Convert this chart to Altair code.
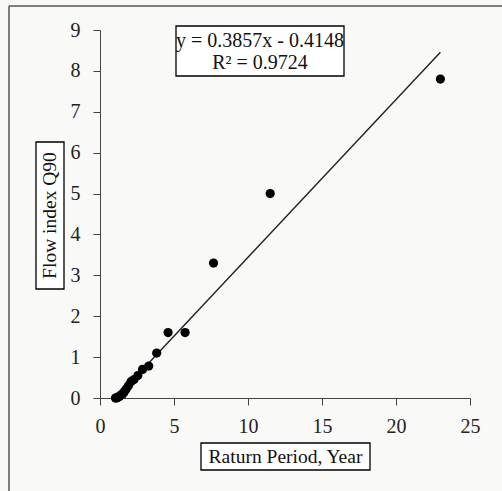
import altair as alt
import pandas as pd

# Data
return_period = [23.0, 11.5, 7.67, 5.75, 4.6, 3.83, 3.29, 2.875, 2.56, 2.3, 2.09,
                 1.92, 1.77, 1.64, 1.53, 1.44, 1.35, 1.28, 1.21, 1.15, 1.10, 1.045]
flow_index = [7.8, 5.0, 3.3, 1.6, 1.6, 1.1, 0.78, 0.7, 0.55, 0.45, 0.4,
              0.3, 0.22, 0.15, 0.1, 0.08, 0.05, 0.03, 0.02, 0.01, 0.0, 0.0]
slope = 0.3857
intercept = -0.4148
eq_lines = ["y = 0.3857x - 0.4148", "R² = 0.9724"]
eq_line_pos = [11, 33]
x_title = "Raturn Period, Year"
y_title = "Flow index Q90"

FONT = "Liberation Serif"

pts_df = pd.DataFrame({"x": return_period, "y": flow_index})
line_df = pd.DataFrame({"x": [min(return_period), max(return_period)]})

xs = alt.Scale(domain=[0, 25], nice=False)
ys = alt.Scale(domain=[0, 9], nice=False)

xaxis = alt.Axis(values=[0, 5, 10, 15, 20, 25], title=None, grid=False,
                 labelFont=FONT, labelFontSize=20, labelColor="#222",
                 domainColor="#444", tickColor="#444", tickSize=7,
                 labelPadding=11, labelFlush=False)
yaxis = alt.Axis(values=list(range(10)), title=None, grid=False,
                 labelFont=FONT, labelFontSize=20, labelColor="#222",
                 domainColor="#444", tickColor="#444", tickSize=7,
                 labelPadding=13, labelFlush=False)

points = alt.Chart(pts_df).mark_circle(size=85, color="black", opacity=1).encode(
    x=alt.X("x:Q", scale=xs, axis=xaxis),
    y=alt.Y("y:Q", scale=ys, axis=yaxis),
)

fit = alt.Chart(line_df).transform_calculate(
    y=f"{slope} * datum.x + ({intercept})"
).mark_line(color="#222", strokeWidth=1.4).encode(
    x=alt.X("x:Q", scale=xs),
    y=alt.Y("y:Q", scale=ys),
)

one = pd.DataFrame({"a": [0]})

# Equation box
eq_box = alt.Chart(one).mark_rect(
    fill="white", stroke="black", strokeWidth=1.3
).encode(x=alt.value(76), x2=alt.value(244), y=alt.value(-4), y2=alt.value(46))
eq_text = alt.Chart(pd.DataFrame({"t": eq_lines, "yy": eq_line_pos})).mark_text(
    font=FONT, fontSize=20, color="#111", baseline="middle", align="center"
).encode(text="t:N", x=alt.value(160), y=alt.Y("yy:Q", scale=None, axis=None))

# X title box
xt_box = alt.Chart(one).mark_rect(
    fill="white", stroke="black", strokeWidth=1.3
).encode(x=alt.value(101), x2=alt.value(270), y=alt.value(413), y2=alt.value(440))
xt_text = alt.Chart(pd.DataFrame({"t": [x_title]})).mark_text(
    font=FONT, fontSize=19.5, color="#111", baseline="middle", align="center"
).encode(text="t:N", x=alt.value(185.5), y=alt.value(427))

# Y title box
yt_box = alt.Chart(one).mark_rect(
    fill="white", stroke="black", strokeWidth=1.3
).encode(x=alt.value(-64), x2=alt.value(-36), y=alt.value(112), y2=alt.value(259))
yt_text = alt.Chart(pd.DataFrame({"t": [y_title]})).mark_text(
    font=FONT, fontSize=19.5, color="#111", baseline="middle", align="center", angle=270
).encode(text="t:N", x=alt.value(-50), y=alt.value(185.5))

# Outer frame (left and top edges visible)
frame_left = alt.Chart(one).mark_rule(color="#555", strokeWidth=1.5).encode(
    x=alt.value(-91), y=alt.value(-24), y2=alt.value(470))
frame_top = alt.Chart(one).mark_rule(color="#555", strokeWidth=1.5).encode(
    x=alt.value(-91), x2=alt.value(410), y=alt.value(-24))

chart = alt.layer(
    frame_left, frame_top, fit, points, eq_box, eq_text, xt_box, xt_text, yt_box, yt_text
).properties(
    width=370, height=368,
    autosize=alt.AutoSizeParams(type="none"),
    padding={"left": 100, "top": 30, "right": 32, "bottom": 93},
    background="#f9f9f8",
).configure_view(stroke=None)

chart.save("out.html", embed_options={"renderer": "svg", "actions": False})
